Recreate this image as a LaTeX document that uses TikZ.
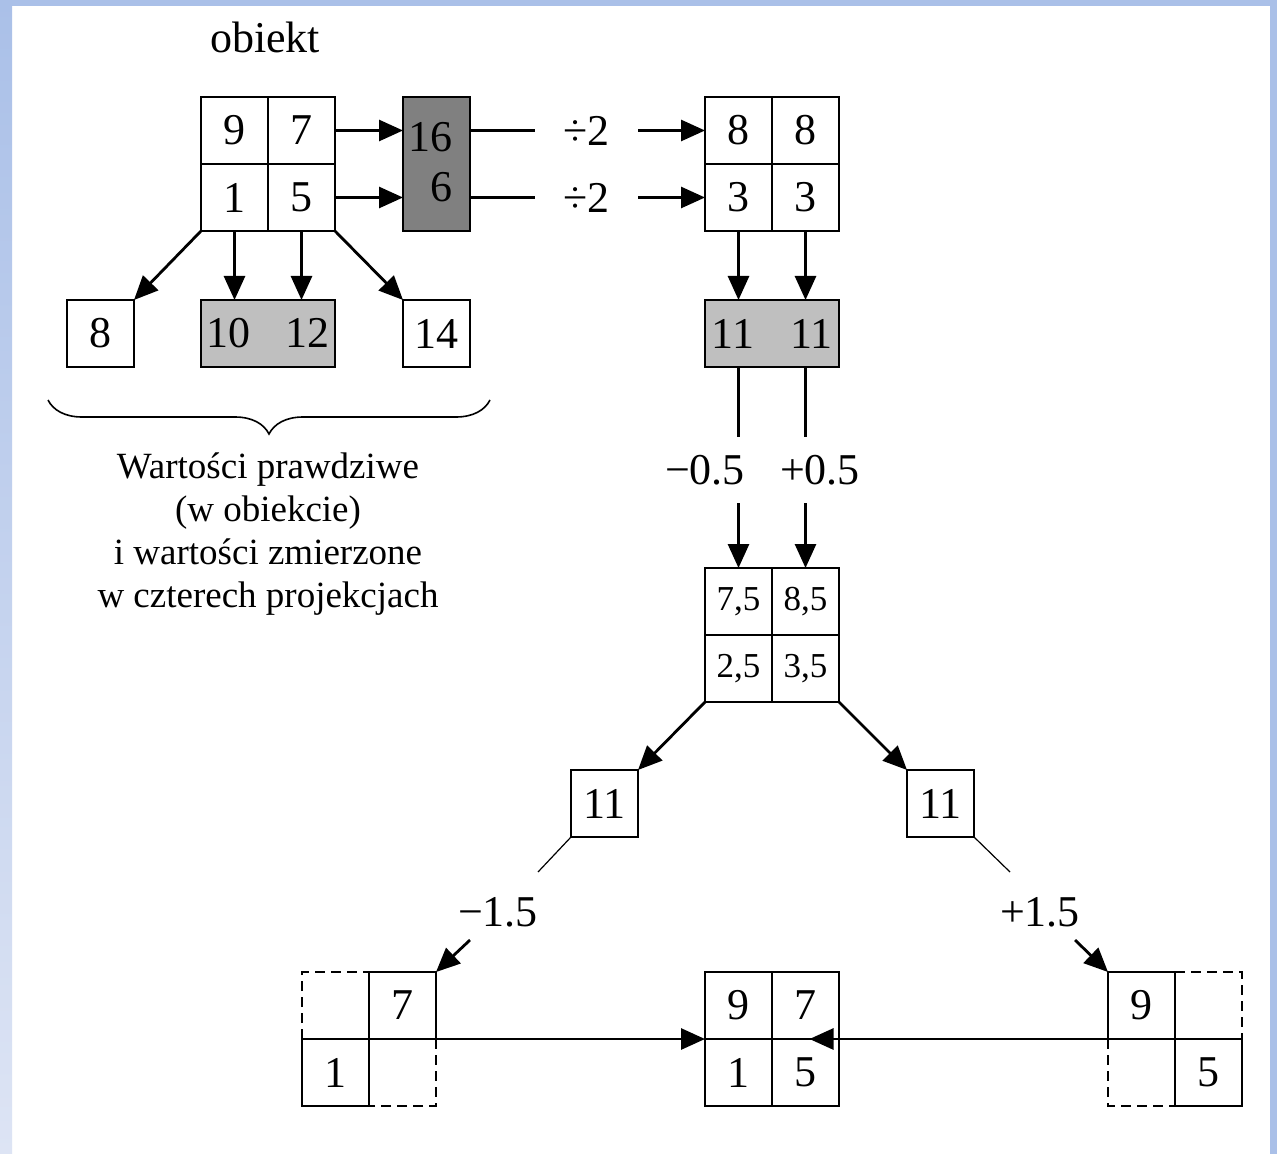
\documentclass[tikz,border=0pt]{standalone}
\usepackage{fontspec}
\setmainfont{Liberation Serif}
\usetikzlibrary{arrows.meta, positioning, calc, decorations.pathreplacing}

\definecolor{frameblue}{RGB}{170,192,232}
\definecolor{framepale}{RGB}{221,228,244}

\begin{document}
\begin{tikzpicture}[
  x=0.5pt, y=-0.5pt,
  font=\fontsize{22}{25}\selectfont,
  cell/.style={draw, line width=1.2pt, minimum size=33.5pt, inner sep=0pt, outer sep=0pt},
  smallcell/.style={cell, font=\fontsize{17.5}{20}\selectfont},
  sumbox/.style={draw, line width=1.2pt, fill=black!50, minimum width=33.5pt, minimum height=67pt, inner sep=0pt, outer sep=0pt},
  pairbox/.style={draw, line width=1.2pt, fill=black!25, minimum width=67pt, minimum height=33.5pt, inner sep=0pt, outer sep=0pt},
  oplabel/.style={minimum width=51.5pt, inner sep=0pt},
  shiftlabel/.style={minimum height=33pt, inner sep=0pt},
  arr/.style={line width=1.4pt, -{Triangle[length=12pt, width=10.5pt]}},
  lead/.style={line width=1.1pt},
  thinlead/.style={line width=0.6pt},
  half/.style={line width=1.2pt, dash pattern=on 5pt off 3pt},
]
% frame
\fill[white] (0,0) rectangle (1277,1154);
\useasboundingbox (0,0) rectangle (1277,1154);
\shade[top color=frameblue, bottom color=framepale] (0,0) rectangle (12,1154);
\fill[frameblue] (0,0) rectangle (1277,6);
\fill[frameblue] (1270,0) rectangle (1277,1154);

% object and its projections
\node (title) at (265,37) {obiekt};
\node[cell] (o9) at (234.5,130.5) {9};
\node[cell] (o7) at (301.5,130.5) {7};
\node[cell] (o1) at (234.5,197.5) {1};
\node[cell] (o5) at (301.5,197.5) {5};
\node[sumbox] (sum) at (436.5,164) {};
\node[align=right, inner sep=0pt, anchor=east] (sumtxt) at (453,162) {16\\6};
\node[cell] (p8) at (100.5,333.5) {8};
\node[pairbox] (p1012) at (268,333.5) {10\hspace{18pt}12};
\node[cell] (p14) at (436.5,333.5) {14};
\draw[arr] (o7.east) -- (o7.east -| sum.west);
\draw[arr] (o5.east) -- (o5.east -| sum.west);
\draw[arr] (o1.south west) -- (p8.north east);
\draw[arr] (o1.south) -- (o1.south |- p1012.north);
\draw[arr] (o5.south) -- (o5.south |- p1012.north);
\draw[arr] (o5.south east) -- (p14.north west);

\coordinate (brl) at (48,400);
\coordinate (brr) at (490,400);
\draw[decorate, decoration={brace, mirror, amplitude=17pt}, line width=0.8pt] (brl) -- (brr);
\node[font=\fontsize{18.5}{21.5}\selectfont, align=center] (cap) at (268,534)
  {Wartości prawdziwe\\(w obiekcie)\\i wartości zmierzone\\w czterech projekcjach};

% first step
\node[oplabel] (d1) at (586.5,130.5) {÷2};
\node[oplabel] (d2) at (586.5,197.5) {÷2};
\node[cell] (h8a) at (738.5,130.5) {8};
\node[cell] (h8b) at (805.5,130.5) {8};
\node[cell] (h3a) at (738.5,197.5) {3};
\node[cell] (h3b) at (805.5,197.5) {3};
\draw[lead] (d1 -| sum.east) -- (d1.west);
\draw[lead] (d2 -| sum.east) -- (d2.west);
\draw[arr] (d1.east) -- (h8a.west);
\draw[arr] (d2.east) -- (h3a.west);
\node[pairbox] (g11) at (772,333.5) {11\hspace{18pt}11};
\draw[arr] (h3a.south) -- (h3a.south |- g11.north);
\draw[arr] (h3b.south) -- (h3b.south |- g11.north);

% second step
\node[shiftlabel] (mh) at (705,470) {−0.5};
\node[shiftlabel] (ph) at (820,470) {+0.5};
\node[smallcell] (c75) at (738.5,601.5) {7,5};
\node[smallcell] (c85) at (805.5,601.5) {8,5};
\node[smallcell] (c25) at (738.5,668.5) {2,5};
\node[smallcell] (c35) at (805.5,668.5) {3,5};
\draw[lead] (g11.south -| c75) -- (mh.north -| c75);
\draw[lead] (g11.south -| c85) -- (ph.north -| c85);
\draw[arr] (mh.south -| c75) -- (c75.north);
\draw[arr] (ph.south -| c85) -- (c85.north);

% third step
\node[cell] (l11) at (604.5,803.5) {11};
\node[cell] (r11) at (940.5,803.5) {11};
\draw[arr] (c25.south west) -- (l11.north east);
\draw[arr] (c35.south east) -- (r11.north west);
\node (mo) at (498,912) {−1.5};
\node (po) at (1040,912) {+1.5};
\coordinate (ml1) at (538,872);
\coordinate (ml2) at (470,940);
\coordinate (pl1) at (1010,872);
\coordinate (pl2) at (1075,940);
\draw[thinlead] (l11.south west) -- (ml1);
\draw[thinlead] (r11.south east) -- (pl1);

% back-projected parts and result
\node[cell] (bl7) at (402.5,1005.5) {7};
\node[cell] (bl1) at (335.5,1072.5) {1};
\draw[half] (bl1.north west) |- (bl7.north west);
\draw[half] (bl7.south east) |- (bl1.south east);
\node[cell] (m9) at (738.5,1005.5) {9};
\node[cell] (m7) at (805.5,1005.5) {7};
\node[cell] (m1) at (738.5,1072.5) {1};
\node[cell] (m5) at (805.5,1072.5) {5};
\node[cell] (br9) at (1141.5,1005.5) {9};
\node[cell] (br5) at (1208.5,1072.5) {5};
\draw[half] (br9.north east) -| (br5.north east);
\draw[half] (br9.south west) |- (br5.south west);
\draw[arr] (ml2) -- (bl7.north east);
\draw[arr] (pl2) -- (br9.north west);
\draw[arr] (bl7.south east) -- (m9.south west);
\draw[arr] (br9.south west) -- ($(m7.south)+(4,0)$);
\end{tikzpicture}
\end{document}
